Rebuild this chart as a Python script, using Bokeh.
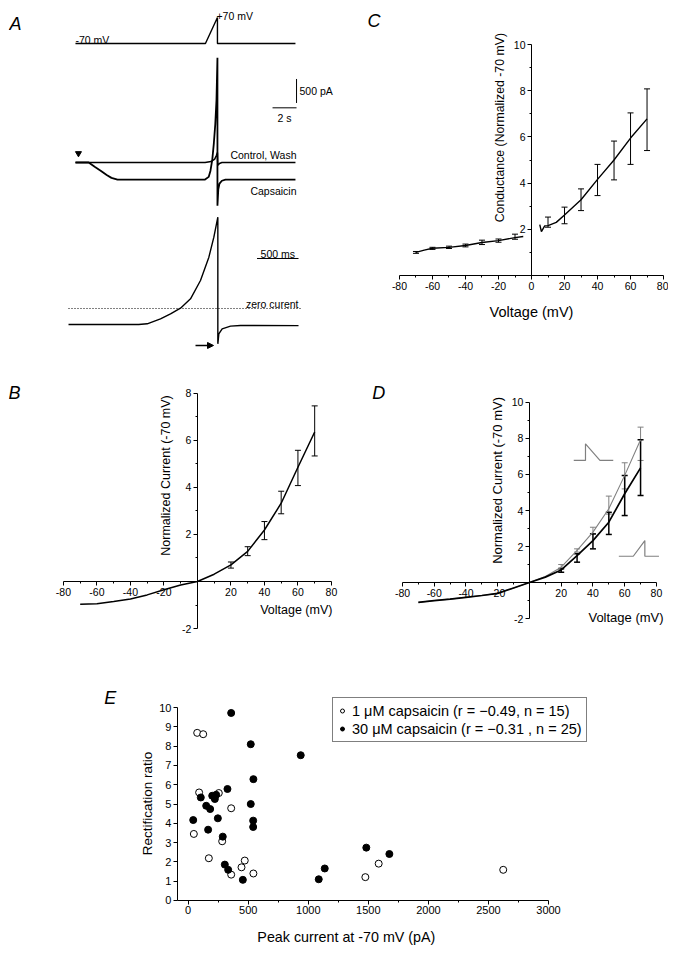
from bokeh.plotting import figure
from bokeh.layouts import column, row
from bokeh.models import (FixedTicker, Label, Whisker, TeeHead, ColumnDataSource,
                          Arrow, NormalHead, Legend, LegendItem, LinearAxis)
from bokeh.embed import file_html
from bokeh.resources import INLINE

FONT = "Liberation Sans"

# ---------------- Panel A data ----------------
prot_t = [0, 10.83, 11.83, 11.83, 18.33]          # s
prot_mv = [-70, -70, 70, -70, -70]                 # mV

ctrl_t = [0, 10.8, 11.3, 11.6, 11.75, 11.83, 11.86, 12.0, 12.2, 18.33]
ctrl_pa = [0, 0, 20, 70, 150, 210, -60, -20, 0, 0]

caps_t = [0, 1.1, 1.6, 2.1, 2.6, 3.0, 3.5, 10.8, 11.1, 11.25, 11.4, 11.53, 11.65,
          11.75, 11.83, 11.83, 11.9, 12.0, 12.2, 12.5, 18.33]
caps_pa = [0, 0, -90, -170, -260, -320, -355, -355, -300, -170, 60, 400, 800,
           1300, 2180, -900, -560, -440, -380, -355, -355]

onset_t = [0.25]
onset_pa = [190]

exp_t = [-1.795, -0.95, -0.847, -0.687, -0.566, -0.446, -0.325, -0.205, -0.104,
         -0.044, 0.004, 0.004, 0.016, 0.056, 0.157, 0.277, 0.976]
exp_pa = [-350, -350, -335, -226, -117, 7, 212, 613, 1124, 1562, 2000, -774,
          -555, -445, -387, -372, -375]
zero_t = [-1.795, 1.0]
zero_pa = [0, 0]

# scale bars (A)
bar_pa_t = [18.42, 18.42]
bar_pa_y = [1740, 1240]
bar_s_t = [16.42, 18.42]
bar_s_y = [1139, 1139]
bar_ms_t = [0.476, 0.976]
bar_ms_y = [1095, 1095]
arrow_t = [-0.265, -0.048]
arrow_pa = -810

# ---------------- Panel B data ----------------
B_v = [-70, -60, -50, -40, -30, -20, -10, 0, 10, 20, 30, 40, 50, 60, 70]
B_i = [-0.97, -0.95, -0.85, -0.74, -0.57, -0.35, -0.15, 0, 0.31, 0.71, 1.28, 2.19, 3.33, 4.86, 6.36]
B_err_v = [20, 30, 40, 50, 60, 70]
B_err_lo = [0.57, 1.1, 1.78, 2.88, 4.08, 5.34]
B_err_hi = [0.83, 1.48, 2.55, 3.84, 5.58, 7.47]

# ---------------- Panel C data ----------------
C_v_neg = [-70, -65, -60, -50, -40, -30, -20, -10, -5]
C_g_neg = [1.0, 1.1, 1.18, 1.22, 1.3, 1.43, 1.51, 1.64, 1.69]
C_v_pos = [5, 6, 8, 10, 15, 20, 30, 40, 50, 60, 70]
C_g_pos = [2.2, 1.9, 2.15, 2.16, 2.3, 2.62, 3.28, 4.16, 5.0, 5.95, 6.78]
C_err_v = [-70, -60, -50, -40, -30, -20, -10, 10, 20, 30, 40, 50, 60, 70]
C_err_lo = [0.96, 1.13, 1.17, 1.24, 1.34, 1.44, 1.57, 2.09, 2.24, 2.81, 3.46, 4.14, 4.81, 5.41]
C_err_hi = [1.04, 1.22, 1.27, 1.36, 1.53, 1.58, 1.79, 2.53, 2.96, 3.75, 4.81, 5.82, 7.04, 8.08]

# ---------------- Panel D data ----------------
D_v = [-70, -60, -50, -40, -30, -20, -10, 0, 10, 20, 30, 40, 50, 60, 70]
D_up = [-1.1, -1.0, -0.92, -0.82, -0.72, -0.6, -0.3, 0, 0.33, 0.85, 1.78, 2.8, 4.1, 5.95, 7.93]
D_ramp = [-1.1, -1.0, -0.92, -0.82, -0.72, -0.6, -0.3, 0, 0.3, 0.7, 1.5, 2.33, 3.35, 4.93, 6.37]
D_err_v = [20, 30, 40, 50, 60, 70]
D_up_lo = [0.81, 1.69, 2.7, 3.8, 5.2, 6.78]
D_up_hi = [1.0, 1.87, 3.07, 4.8, 6.65, 8.63]
D_ramp_lo = [0.57, 1.13, 1.87, 2.67, 3.72, 4.83]
D_ramp_hi = [0.76, 1.6, 2.7, 3.9, 5.95, 7.93]
# protocol pictograms in D (mV axis units)
icon_down_x = [27.9, 35.3, 35.3, 44.4, 52.8]
icon_down_y = [6.78, 6.78, 7.7, 6.78, 6.78]
icon_up_x = [56.3, 65.4, 72.7, 72.7, 81.6]
icon_up_y = [1.46, 1.46, 2.33, 1.46, 1.46]

# ---------------- Panel E data ----------------
E_open_x = [75, 125, 91, 255, 358, 47, 283, 172, 471, 444, 358, 543, 1475, 1586, 2623]
E_open_y = [8.69, 8.62, 5.6, 5.57, 4.78, 3.45, 3.07, 2.19, 2.07, 1.72, 1.34, 1.40, 1.21, 1.91, 1.59]
E_fill_x = [358, 521, 937, 543, 327, 200, 233, 222, 105, 150, 183, 521, 42, 247, 541,
            541, 166, 288, 305, 333, 455, 1087, 1137, 1483, 1675]
E_fill_y = [9.72, 8.10, 7.53, 6.29, 5.78, 5.43, 5.48, 5.26, 5.34, 4.91, 4.74, 5.0, 4.17,
            4.26, 4.14, 3.81, 3.67, 3.31, 1.86, 1.59, 1.07, 1.10, 1.66, 2.74, 2.41]
E_xticks = [0, 500, 1000, 1500, 2000, 2500, 3000]
E_xminor = [250, 750, 1250, 1750, 2250, 2750]
E_yticks = list(range(0, 11))
V_ticks = [-80, -60, -40, -20, 0, 20, 40, 60, 80]
V_minor = [-70, -50, -30, -10, 10, 30, 50, 70]


def txt(p, x, y, s, size="10px", align="left", baseline="alphabetic", angle=0,
        style="normal", color="black"):
    p.add_layout(Label(x=x, y=y, text=s, text_font=FONT, text_font_size=size,
                       text_align=align, text_baseline=baseline, angle=angle,
                       text_font_style=style, text_color=color))


def blank(w, h, xr, yr):
    p = figure(width=w, height=h, x_range=xr, y_range=yr, x_axis_location=None,
               y_axis_location=None, output_backend="svg", toolbar_location=None,
               min_border_left=0, min_border_right=0, min_border_top=0,
               min_border_bottom=0)
    p.outline_line_color = None
    p.grid.visible = False
    return p


def add_axis(p, side, loc, bounds, ticks, minor, hide=(), size="10.5px"):
    ax = LinearAxis(fixed_location=loc, bounds=bounds)
    ax.ticker = FixedTicker(ticks=ticks, minor_ticks=minor)
    ax.major_label_text_font = FONT
    ax.major_label_text_font_size = size
    ax.major_label_text_color = "black"
    ax.axis_line_color = "black"
    ax.major_tick_line_color = "black"
    ax.minor_tick_line_color = "black"
    ax.major_tick_in = 0
    ax.major_tick_out = 4
    ax.minor_tick_in = 0
    ax.minor_tick_out = 2
    ax.axis_line_width = 1
    ax.major_label_standoff = 2
    ov = {}
    for t in ticks:
        ov[t] = "" if t in hide else ("-%g" % abs(t) if t < 0 else "%g" % t)
    ax.major_label_overrides = ov
    p.add_layout(ax, side)
    return ax


def bars(p, xs, lo, hi, color="black", w=1, size=6):
    src = ColumnDataSource(dict(x=xs, lo=lo, hi=hi))
    p.add_layout(Whisker(source=src, base="x", lower="lo", upper="hi",
                         line_color=color, line_width=w,
                         upper_head=TeeHead(size=size, line_color=color, line_width=w),
                         lower_head=TeeHead(size=size, line_color=color, line_width=w)))


# ---------------- Panel A ----------------
A1 = blank(337, 47, (-5.58, 22.5), (-134.6, 118.5))
A1.line(prot_t, prot_mv, line_color="black", line_width=1.4)
txt(A1, -5.5, 37.7, "A", size="18px", style="italic")
txt(A1, 0, -53.8, "-70 mV", size="10.5px")
txt(A1, 11.75, 80.8, "+70 mV", size="10.5px")

A2 = blank(337, 155, (-5.58, 22.5), (-1000, 2229))
A2.line(ctrl_t, ctrl_pa, line_color="black", line_width=1.5)
A2.line(caps_t, caps_pa, line_color="black", line_width=1.8)
A2.scatter(onset_t, onset_pa, marker="inverted_triangle", size=6, color="black")
A2.line(bar_pa_t, bar_pa_y, line_color="black", line_width=1)
A2.line(bar_s_t, bar_s_y, line_color="black", line_width=1)
txt(A2, 18.67, 1490, "500 pA", size="10.5px", baseline="middle")
txt(A2, 17.42, 1062, "2 s", size="10.5px", align="center", baseline="top")
txt(A2, 18.42, 150, "Control, Wash", size="10.5px", align="right")
txt(A2, 18.42, -604, "Capsaicin", size="10.5px", align="right")

A3 = blank(337, 150, (-2.518, 1.542), (-1139, 2146))
A3.line(zero_t, zero_pa, line_color="black", line_width=1, line_dash="1 2")
A3.line(exp_t, exp_pa, line_color="black", line_width=1.4)
A3.line(bar_ms_t, bar_ms_y, line_color="black", line_width=1)
txt(A3, 0.726, 1183, "500 ms", size="10.5px", align="center")
txt(A3, 0.976, 88, "zero curent", size="10.5px", align="right")
A3.add_layout(Arrow(end=NormalHead(size=6, fill_color="black", line_color="black"),
                    x_start=arrow_t[0], y_start=arrow_pa, x_end=arrow_t[1],
                    y_end=arrow_pa, line_width=1.5))

colA = column(A1, A2, A3)

# ---------------- Panel C ----------------
C = blank(323, 352, (-112.7, 83.0), (-3.68, 11.56))
add_axis(C, "below", 0, (-80, 80), V_ticks, V_minor)
add_axis(C, "left", 0, (0, 10), [2, 4, 6, 8, 10], [1, 3, 5, 7, 9])
C.line(C_v_neg, C_g_neg, line_color="black", line_width=1.4)
C.line(C_v_pos, C_g_pos, line_color="black", line_width=1.4)
bars(C, C_err_v, C_err_lo, C_err_hi)
txt(C, -99.4, 11.0, "C", size="18px", style="italic")
txt(C, -18.8, 6.4, "Conductance (Normalized -70 mV)", size="12.3px", align="center",
    baseline="middle", angle=1.5708)
txt(C, 0, -1.56, "Voltage (mV)", size="14.5px", align="center", baseline="middle")

# ---------------- Panel B ----------------
B = blank(337, 300, (-112.8, 88.4), (-3.36, 9.40))
add_axis(B, "below", 0, (-80, 80), V_ticks, V_minor, hide=(0,))
add_axis(B, "left", 0, (-2, 8), [-2, 0, 2, 4, 6, 8], [-1, 1, 3, 5, 7], hide=(0,))
B.line(B_v, B_i, line_color="black", line_width=1.5)
bars(B, B_err_v, B_err_lo, B_err_hi)
txt(B, -112.8, 8.0, "B", size="18px", style="italic")
txt(B, -18.5, 4.51, "Normalized Current (-70 mV)", size="12.5px", align="center",
    baseline="middle", angle=1.5708)
txt(B, 80.6, -1.23, "Voltage (mV)", size="12.5px", align="right", baseline="middle")

# ---------------- Panel D ----------------
D = blank(323, 300, (-115.9, 87.6), (-4.33, 12.33))
add_axis(D, "below", 0, (-80, 80), V_ticks, V_minor, hide=(0,))
add_axis(D, "left", 0, (-2, 10), [-2, 0, 2, 4, 6, 8, 10], [-1, 1, 3, 5, 7, 9], hide=(0,))
D.line(D_v, D_up, line_color="#808080", line_width=1.1)
D.line(D_v, D_ramp, line_color="black", line_width=1.7)
bars(D, D_err_v, D_up_lo, D_up_hi, color="#808080", w=1)
bars(D, D_err_v, D_ramp_lo, D_ramp_hi, color="black", w=1.5)
D.line(icon_down_x, icon_down_y, line_color="#808080", line_width=1.2)
D.line(icon_up_x, icon_up_y, line_color="#808080", line_width=1.2)
txt(D, -99, 10.5, "D", size="18px", style="italic")
txt(D, -20.2, 5.67, "Normalized Current (-70 mV)", size="13px", align="center",
    baseline="middle", angle=1.5708)
txt(D, 84.5, -1.94, "Voltage (mV)", size="13px", align="right", baseline="middle")

# ---------------- Panel E ----------------
E = blank(660, 289, (-1496, 3999), (-2.54, 12.44))
add_axis(E, "below", 0, (-90, 3000), E_xticks, E_xminor, size="11px")
add_axis(E, "left", -90, (0, 10), E_yticks, [], size="11px")
r_open = E.scatter(E_open_x, E_open_y, size=7, marker="circle", fill_color="white",
                   line_color="black", line_width=1)
r_fill = E.scatter(E_fill_x, E_fill_y, size=7, marker="circle", fill_color="black",
                   line_color="black", line_width=1)
leg = Legend(items=[
    LegendItem(label="1 \u03bcM capsaicin (r = \u22120.49, n = 15)", renderers=[r_open]),
    LegendItem(label="30 \u03bcM capsaicin (r = \u22120.31 , n = 25)", renderers=[r_fill]),
], location=(324, 207))
leg.label_text_font = FONT
leg.label_text_font_size = "14.5px"
leg.label_text_color = "black"
leg.glyph_width = 10
leg.glyph_height = 17
leg.label_height = 17
leg.label_standoff = 5
leg.padding = 4
leg.spacing = 1
leg.margin = 0
leg.border_line_color = "black"
leg.border_line_width = 1
E.add_layout(leg)
txt(E, -698, 10.52, "E", size="18px", style="italic")
txt(E, -340, 5.03, "Rectification ratio", size="13.5px", align="center",
    baseline="middle", angle=1.5708)
txt(E, 1317, -1.87, "Peak current at -70 mV (pA)", size="14.3px", align="center",
    baseline="middle")

layout = column(row(colA, C), row(B, D), E)
layout.margin = (8, 0, 0, 8)
open("out.html", "w").write(file_html(layout, INLINE))
